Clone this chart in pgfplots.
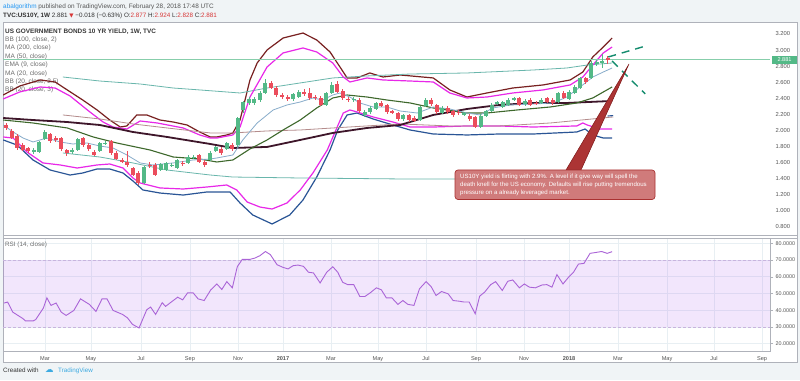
\documentclass[border=0pt]{standalone}
\usepackage{pgfplots}
\pgfplotsset{compat=1.18}
\usepackage{pgfplotstable}
\usepgfplotslibrary{fillbetween}
\usepackage{fontspec}
\setmainfont{Liberation Sans}
\newfontfamily\dejavu{DejaVu Sans}
\newcommand\fs[1]{\fontsize{#1}{#1}\selectfont}
\definecolor{bgc}{RGB}{240,244,246}
\definecolor{axc}{RGB}{175,178,186}
\definecolor{gridc}{RGB}{232,239,243}
\definecolor{labc}{RGB}{85,85,85}
\definecolor{legc}{RGB}{110,110,110}
\definecolor{hdc}{RGB}{50,50,50}
\definecolor{upc}{RGB}{83,185,135}
\definecolor{dnc}{RGB}{235,77,92}
\definecolor{bbthree}{RGB}{120,32,32}
\definecolor{bbmag}{RGB}{232,40,232}
\definecolor{bbblue}{RGB}{42,85,150}
\definecolor{madark}{RGB}{62,22,42}
\definecolor{magreen}{RGB}{62,104,44}
\definecolor{emac}{RGB}{135,172,202}
\definecolor{bbteal}{RGB}{105,182,172}
\definecolor{mabrown}{RGB}{180,140,140}
\definecolor{tealfill}{RGB}{38,166,154}
\definecolor{rsic}{RGB}{170,100,215}
\definecolor{rsiband}{RGB}{150,50,235}
\definecolor{rsidash}{RGB}{200,180,222}
\definecolor{tvblue}{RGB}{33,150,243}
\definecolor{hdred}{RGB}{215,55,55}
\definecolor{callfill}{RGB}{204,112,112}
\definecolor{calledge}{RGB}{170,50,50}
\definecolor{wedgefill}{RGB}{172,52,52}
\definecolor{wedgeedge}{RGB}{125,25,25}
\definecolor{drawteal}{RGB}{20,140,110}
\definecolor{logoblue}{RGB}{60,170,225}

\pgfplotstableread{
i o h l c
5 1.732 1.78 1.71 1.757
6 1.732 1.87 1.72 1.857
7 1.894 2.00 1.88 1.981
12 1.732 1.78 1.71 1.757
13 1.757 1.91 1.74 1.894
17 1.745 1.86 1.73 1.844
18 1.832 1.87 1.82 1.844
25 1.347 1.56 1.34 1.546
28 1.508 1.60 1.49 1.583
29 1.508 1.61 1.50 1.596
30 1.558 1.59 1.54 1.571
31 1.533 1.65 1.52 1.633
33 1.596 1.69 1.58 1.670
34 1.658 1.70 1.64 1.670
37 1.633 1.74 1.62 1.720
38 1.745 1.81 1.73 1.795
40 1.770 1.86 1.76 1.844
42 1.819 2.17 1.80 2.155
43 2.255 2.37 2.22 2.354
44 2.342 2.41 2.32 2.392
45 2.342 2.42 2.32 2.392
46 2.379 2.49 2.36 2.466
47 2.466 2.64 2.45 2.591
52 2.392 2.47 2.37 2.454
53 2.416 2.50 2.40 2.479
58 2.317 2.48 2.30 2.466
59 2.466 2.60 2.45 2.566
63 2.379 2.41 2.36 2.392
65 2.193 2.25 2.17 2.230
66 2.230 2.30 2.21 2.280
67 2.267 2.36 2.25 2.342
72 2.143 2.21 2.12 2.193
75 2.130 2.31 2.12 2.292
76 2.305 2.40 2.29 2.379
79 2.217 2.30 2.20 2.280
83 2.205 2.23 2.18 2.211
86 2.043 2.20 2.03 2.180
87 2.180 2.26 2.17 2.242
88 2.242 2.34 2.23 2.317
89 2.342 2.37 2.32 2.348
90 2.292 2.37 2.28 2.354
91 2.317 2.40 2.30 2.379
92 2.392 2.42 2.37 2.398
94 2.329 2.39 2.31 2.367
97 2.342 2.40 2.33 2.379
100 2.354 2.48 2.34 2.466
102 2.392 2.50 2.38 2.479
103 2.466 2.56 2.45 2.541
104 2.528 2.67 2.51 2.653
106 2.653 2.86 2.64 2.839
107 2.827 2.88 2.80 2.852
108 2.839 2.95 2.78 2.864
}\uptab

\pgfplotstableread{
i o h l c
0 2.068 2.09 2.00 2.031
1 1.994 2.02 1.89 1.906
2 1.931 1.95 1.76 1.782
3 1.819 1.84 1.74 1.757
4 1.782 1.80 1.72 1.745
8 1.956 1.97 1.85 1.869
9 1.906 1.93 1.86 1.882
10 1.906 1.92 1.75 1.770
11 1.757 1.77 1.68 1.720
14 1.906 1.92 1.80 1.819
15 1.819 1.85 1.75 1.770
16 1.732 1.76 1.68 1.695
19 1.869 1.88 1.70 1.720
20 1.720 1.74 1.63 1.645
21 1.633 1.66 1.59 1.608
22 1.608 1.74 1.55 1.571
23 1.533 1.55 1.43 1.446
24 1.471 1.49 1.32 1.347
26 1.571 1.61 1.53 1.558
27 1.571 1.59 1.43 1.446
32 1.596 1.62 1.56 1.583
35 1.695 1.71 1.59 1.608
36 1.608 1.63 1.55 1.571
39 1.770 1.79 1.70 1.720
41 1.819 1.84 1.75 1.770
48 2.591 2.62 2.51 2.528
49 2.528 2.55 2.42 2.441
50 2.441 2.47 2.39 2.416
51 2.416 2.44 2.37 2.392
54 2.479 2.51 2.43 2.454
55 2.466 2.53 2.38 2.404
56 2.416 2.44 2.38 2.404
57 2.404 2.43 2.30 2.317
60 2.578 2.61 2.46 2.479
61 2.491 2.51 2.38 2.404
62 2.392 2.41 2.36 2.379
64 2.379 2.40 2.22 2.242
68 2.342 2.37 2.29 2.305
69 2.317 2.33 2.21 2.230
70 2.242 2.26 2.20 2.217
71 2.217 2.23 2.12 2.143
73 2.193 2.21 2.11 2.130
74 2.155 2.18 2.10 2.118
77 2.379 2.40 2.31 2.329
78 2.317 2.33 2.21 2.230
80 2.280 2.30 2.21 2.230
81 2.242 2.26 2.17 2.193
82 2.230 2.25 2.19 2.217
84 2.180 2.20 2.12 2.143
85 2.168 2.18 2.03 2.043
93 2.404 2.42 2.30 2.317
95 2.379 2.40 2.30 2.317
96 2.345 2.37 2.32 2.338
98 2.404 2.42 2.34 2.354
99 2.379 2.40 2.32 2.342
101 2.466 2.49 2.39 2.404
105 2.653 2.67 2.58 2.603
109 2.900 2.924 2.828 2.881
}\dntab

\pgfplotstableread{
x v
-0.35 44.3
0.3 44.9
1.22 38.9
3.07 35
3.53 33.6
4.92 33.6
5.38 34.4
6.77 41.3
7.41 47.4
8.15 42.9
9.08 44.3
10.0 38.9
10.9 36.9
12.3 39.9
13.5 46.8
15.1 43.5
16.3 39.3
17.4 46.8
18.3 46.8
19.4 39.9
21.1 37.5
22.0 35.5
22.9 31.6
24.1 29.4
25.5 40.3
26.2 41.9
27.1 37.5
28.3 44.5
28.9 42.3
31.1 47.8
32.0 46.2
32.9 50.4
33.9 50.4
34.8 46.8
35.9 45.8
37.1 52.2
38.2 55.7
39.1 52.4
40.0 57.1
41.0 53.4
41.9 66
42.8 70.4
44.2 70.4
45.1 71.2
46.0 72.6
47.0 75.1
47.9 73.2
49.1 67.2
50.2 65.6
51.1 64.7
52.0 66.6
52.9 67
53.9 66.2
54.8 62.7
55.7 62.3
56.9 56.3
58.1 62.7
59.2 66
60.1 62.7
61.0 56.7
61.9 55.3
63.0 55.3
64.1 48.2
65.0 48.2
65.9 50.2
67.1 53.4
68.0 52.2
68.9 47.4
69.9 47.4
71.0 43.5
71.9 45.8
72.8 43.5
73.9 42.9
74.9 52.8
76.1 57.1
77.0 54.2
77.9 48.8
78.9 51.2
80.1 49.8
81.0 45.8
82.1 45.4
83.0 44.9
83.9 44.9
85.0 37.9
85.8 48.4
86.7 50.8
87.8 55.3
88.7 57.1
89.9 51.8
90.9 57.3
91.8 58.1
93.0 53.4
93.9 55.7
94.8 53.8
95.9 53.4
97.1 55.1
98.0 55.3
98.9 53.8
99.8 61.3
100.9 55.7
101.9 59.7
102.8 62.7
103.7 67.6
104.7 68
105.8 74
107.0 74.6
107.9 75.1
108.9 74
109.8 75
}\rsitab

\begin{document}
\begin{tikzpicture}
\fill[bgc] (0pt,0pt) rectangle (800pt,380pt);
\fill[white] (3pt,18pt) rectangle (797pt,358pt);
\draw[axc, line width=0.6pt] (3pt,18pt) rectangle (797pt,358pt);

% header
\node[anchor=base west, inner sep=0] at (3pt,371.7pt) {\fs{6.4}\textcolor{tvblue}{abalgorithm} \textcolor{labc}{published on TradingView.com, February 28, 2018 17:48 UTC}};
\node[anchor=base west, inner sep=0, text=hdc] at (3pt,362.7pt) {\fs{6.3}\textbf{TVC:US10Y, 1W} 2.881 \textcolor{hdred}{\dejavu\fs{5.5}▼} −0.018 (−0.63\%) O:\textcolor{hdred}{2.877} H:\textcolor{hdred}{2.924} L:\textcolor{hdred}{2.828} C:\textcolor{hdred}{2.881}};

% legend
\node[anchor=base west, inner sep=0] at (5pt,346.5pt) {\fs{6.4}\bfseries\textcolor[RGB]{55,55,55}{US GOVERNMENT BONDS 10 YR YIELD, 1W, TVC}};
\node[anchor=base west, inner sep=0, text=legc] at (5pt,338.5pt) {\fs{6.5}BB (100, close, 2)};
\node[anchor=base west, inner sep=0, text=legc] at (5pt,330pt) {\fs{6.5}MA (200, close)};
\node[anchor=base west, inner sep=0, text=legc] at (5pt,321.5pt) {\fs{6.5}MA (50, close)};
\node[anchor=base west, inner sep=0, text=legc] at (5pt,313pt) {\fs{6.5}EMA (9, close)};
\node[anchor=base west, inner sep=0, text=legc] at (5pt,304.5pt) {\fs{6.5}MA (20, close)};
\node[anchor=base west, inner sep=0, text=legc] at (5pt,296pt) {\fs{6.5}BB (20, close, 2.5)};
\node[anchor=base west, inner sep=0, text=legc] at (5pt,288pt) {\fs{6.5}BB (20, close, 3)};

\begin{axis}[
  at={(3pt,145pt)}, anchor=south west, scale only axis,
  width=767pt, height=213pt,
  xmin=-0.54, xmax=138.4, ymin=0.700, ymax=3.349,
  axis line style={draw=axc, line width=0.6pt},
  xtick={7.07,15.40,24.46,33.33,42.03,50.18,58.88,67.39,76.09,85.14,93.84,101.99,110.87,119.75,128.26,136.96},
  xticklabels={}, x tick style={draw=none},
  ytick={0.8,1.0,1.2,1.4,1.6,1.8,2.0,2.2,2.4,2.6,2.8,3.0,3.2},
  yticklabels={0.800,1.000,1.200,1.400,1.600,1.800,2.000,2.200,2.400,2.600,2.800,3.000,3.200},
  ytick pos=right, yticklabel pos=right, tick align=outside,
  major tick length=3pt, y tick style={draw=axc, line width=0.5pt},
  yticklabel style={font=\fs{5.8}, text=labc, xshift=-1pt},
  xmajorgrids, ymajorgrids, grid style={draw=gridc, line width=0.6pt},
  clip=true,
]
\addplot[bbthree, line width=1.2pt, name path=u3] coordinates {
(-0.5,2.441) (2.5,2.553) (6.2,2.628) (8.9,2.603) (11.1,2.504) (13.9,2.379) (16.5,2.255) (18.8,2.130) (20.7,2.043) (21.9,2.056) (23.7,2.193) (25.5,2.193) (27.9,2.130) (30.3,2.105) (32.8,2.068) (35.1,1.981) (37.0,1.919) (38.2,1.919) (40.0,1.944) (41.1,1.969) (42.4,2.130) (44.2,2.628) (45.5,2.839) (47.3,3.001) (50.2,3.150) (53.8,3.212) (56.3,3.125) (58.7,2.976) (60.5,2.790) (61.8,2.653) (63.6,2.653) (65.9,2.715) (68.3,2.665) (71.4,2.690) (77.4,2.653) (80.4,2.504) (83.5,2.416) (87.1,2.466) (91.8,2.528) (97.3,2.566) (102.2,2.628) (104.5,2.727) (106.3,2.914) (108.2,3.038) (109.8,3.150)};
\addplot[bbblue, line width=1.2pt, name path=l3] coordinates {
(-0.5,1.882) (2.0,1.819) (4.9,1.633) (8.0,1.508) (11.6,1.446) (13.9,1.471) (16.5,1.521) (18.8,1.521) (21.2,1.471) (23.0,1.372) (24.8,1.260) (27.9,1.222) (32.1,1.197) (36.4,1.235) (40.6,1.235) (42.4,1.098) (44.7,0.949) (48.2,0.837) (51.4,0.949) (53.8,1.135) (56.3,1.421) (58.7,1.757) (60.1,2.006) (61.8,2.193) (63.6,2.217) (66.5,2.143) (70.1,2.068) (73.2,2.006) (77.4,1.956) (83.5,1.944) (89.3,1.956) (95.5,1.956) (103.4,1.981) (104.9,2.018) (106.3,1.944) (108.2,1.906) (109.8,1.906)};
\addplot[bbteal, line width=0.8pt, name path=u100] coordinates {
(10.3,2.665) (17.0,2.615) (24.3,2.578) (30.3,2.528) (35.1,2.504) (42.4,2.466) (47.3,2.528) (53.3,2.591) (59.2,2.653) (65.4,2.678) (73.2,2.702) (83.5,2.715) (95.5,2.752) (101.6,2.777) (105.3,2.814) (109.8,2.839)};
\addplot[bbteal, line width=0.8pt, name path=l100] coordinates {
(10.3,1.720) (17.0,1.670) (23.0,1.596) (29.2,1.508) (37.0,1.446) (41.1,1.421) (53.3,1.409) (71.4,1.397) (89.3,1.397) (109.8,1.409)};
\addplot[black, fill opacity=0.045, draw=none] fill between[of=u100 and l100];
\addplot[black, fill opacity=0.045, draw=none] fill between[of=u3 and l3];
\addplot[bbmag, line width=1.2pt, name path=u25] coordinates {
(-0.5,2.392) (2.5,2.479) (6.2,2.541) (8.9,2.528) (11.6,2.429) (15.2,2.230) (17.6,2.105) (19.4,2.043) (21.9,2.018) (24.3,2.118) (27.4,2.093) (32.1,2.031) (35.1,1.944) (37.0,1.906) (38.2,1.906) (41.1,1.944) (42.4,2.043) (44.2,2.416) (47.3,2.790) (50.2,2.964) (53.8,3.026) (56.3,2.976) (59.2,2.839) (61.1,2.665) (62.3,2.603) (65.4,2.653) (68.3,2.628) (73.2,2.615) (77.4,2.603) (80.4,2.466) (83.5,2.404) (87.1,2.416) (91.8,2.466) (97.3,2.504) (102.2,2.566) (104.5,2.665) (106.3,2.814) (108.2,2.964) (109.8,3.038)};
\addplot[bbmag, line width=1.2pt, name path=l25] coordinates {
(-0.5,1.919) (1.3,1.906) (3.8,1.732) (6.7,1.596) (9.8,1.571) (12.9,1.533) (16.5,1.571) (18.8,1.583) (21.2,1.533) (23.0,1.409) (24.3,1.347) (27.9,1.285) (32.1,1.272) (36.4,1.297) (40.0,1.322) (41.8,1.260) (43.7,1.110) (46.0,1.048) (48.2,1.023) (50.9,1.098) (53.3,1.260) (55.6,1.471) (58.2,1.757) (60.0,2.043) (61.1,2.217) (62.3,2.255) (63.6,2.230) (66.5,2.168) (70.1,2.105) (73.2,2.043) (77.4,2.043) (83.5,2.056) (89.3,2.056) (95.5,2.043) (103.4,2.056) (104.5,2.093) (105.3,2.068) (107.6,2.018) (109.8,2.018)};
\addplot[tealfill, fill opacity=0.16, draw=none] fill between[of=u25 and l25];
\addplot[mabrown, line width=0.8pt] coordinates {
(10.3,2.193) (17.0,2.143) (23.0,2.081) (29.2,2.031) (37.0,1.969) (41.1,1.969) (47.3,1.994) (53.3,2.006) (59.2,2.031) (71.4,2.081) (80.4,2.056) (89.3,2.056) (98.6,2.093) (110.0,2.168)};
\addplot[madark, line width=1.8pt] coordinates {
(-0.5,2.155) (4.9,2.130) (11.1,2.105) (17.0,2.068) (23.0,1.981) (29.2,1.919) (37.0,1.832) (41.1,1.782) (47.3,1.795) (53.3,1.882) (59.2,1.969) (65.4,2.031) (71.4,2.068) (77.4,2.193) (83.5,2.267) (89.3,2.317) (95.5,2.342) (101.6,2.342) (109.8,2.367)};
\addplot[magreen, line width=1.1pt] coordinates {
(-0.5,2.130) (4.9,2.093) (11.1,2.031) (15.8,1.919) (20.1,1.844) (26.1,1.757) (30.3,1.670) (35.1,1.645) (38.2,1.608) (41.1,1.633) (44.2,1.770) (47.3,1.882) (50.2,2.006) (53.3,2.130) (56.3,2.280) (59.2,2.404) (61.8,2.441) (65.4,2.416) (69.0,2.379) (73.2,2.342) (77.4,2.280) (83.5,2.217) (87.1,2.217) (92.6,2.255) (98.6,2.292) (103.4,2.342) (106.3,2.404) (109.8,2.541)};
\addplot[emac, line width=0.8pt] coordinates {
(-0.5,2.068) (1.3,1.981) (3.1,1.906) (4.9,1.857) (7.4,1.906) (9.8,1.857) (12.1,1.832) (14.7,1.844) (17.0,1.807) (19.4,1.782) (21.9,1.695) (24.3,1.596) (26.6,1.571) (30.3,1.596) (33.9,1.633) (37.0,1.645) (38.2,1.658) (41.1,1.695) (42.9,1.882) (45.5,2.093) (48.4,2.255) (50.9,2.317) (53.3,2.354) (55.6,2.404) (57.4,2.379) (59.2,2.441) (60.5,2.466) (62.3,2.416) (64.1,2.342) (66.5,2.292) (69.0,2.292) (71.4,2.242) (74.5,2.217) (77.4,2.292) (80.4,2.267) (83.5,2.217) (85.9,2.193) (88.2,2.280) (91.3,2.317) (95.5,2.329) (99.1,2.342) (101.6,2.416) (104.0,2.541) (106.3,2.665) (108.2,2.727) (109.8,2.777)};
\addplot[bbblue, line width=1.1pt] coordinates {(109.0,2.180) (110.0,2.185)};
\addplot[upc!70, line width=0.6pt] coordinates {(-0.54,2.881) (138.4,2.881)};
\addplot[draw=none, mark=none, forget plot, error bars/.cd, y dir=both, y explicit, error mark=none, error bar style={line width=0.7pt, draw=upc}]
  table[x=i, y expr={(\thisrow{h}+\thisrow{l})/2}, y error expr={(\thisrow{h}-\thisrow{l})/2}] {\uptab};
\addplot[draw=none, mark=none, forget plot, error bars/.cd, y dir=both, y explicit, error mark=none, error bar style={line width=0.7pt, draw=dnc}]
  table[x=i, y expr={(\thisrow{h}+\thisrow{l})/2}, y error expr={(\thisrow{h}-\thisrow{l})/2}] {\dntab};
\addplot[draw=none, mark=none, forget plot, error bars/.cd, y dir=both, y explicit, error mark=none, error bar style={line width=4pt, draw=upc}]
  table[x=i, y expr={(\thisrow{o}+\thisrow{c})/2}, y error expr={max(abs(\thisrow{c}-\thisrow{o})/2,0.006)}] {\uptab};
\addplot[draw=none, mark=none, forget plot, error bars/.cd, y dir=both, y explicit, error mark=none, error bar style={line width=4pt, draw=dnc}]
  table[x=i, y expr={(\thisrow{o}+\thisrow{c})/2}, y error expr={max(abs(\thisrow{c}-\thisrow{o})/2,0.006)}] {\dntab};
\addplot[drawteal, line width=1.4pt, dash pattern=on 8pt off 6pt] coordinates {(109.1,2.914) (116.1,3.055)};
\addplot[drawteal, line width=1.4pt, dash pattern=on 8pt off 6pt] coordinates {(109.8,2.864) (115.8,2.454)};
\end{axis}

\begin{axis}[
  at={(3pt,28.5pt)}, anchor=south west, scale only axis,
  width=767pt, height=113pt,
  xmin=-0.54, xmax=138.4, ymin=15.34, ymax=82.87,
  axis line style={draw=axc, line width=0.6pt},
  xtick={7.07,15.40,24.46,33.33,42.03,50.18,58.88,67.39,76.09,85.14,93.84,101.99,110.87,119.75,128.26,136.96},
  xticklabels={Mar,May,Jul,Sep,Nov,\textbf{2017},Mar,May,Jul,Sep,Nov,\textbf{2018},Mar,May,Jul,Sep},
  x tick style={draw=none}, xtick pos=bottom,
  xticklabel style={font=\fs{5.6}, text=labc, yshift=1.5pt},
  ytick={20,30,40,50,60,70,80},
  yticklabels={20.0000,30.0000,40.0000,50.0000,60.0000,70.0000,80.0000},
  ytick pos=right, yticklabel pos=right, tick align=outside,
  major tick length=3pt, y tick style={draw=axc, line width=0.5pt},
  yticklabel style={font=\fs{5.4}, text=labc, xshift=-1pt},
  xmajorgrids, ymajorgrids, grid style={draw=gridc, line width=0.6pt},
]
\addplot[draw=none, fill=rsiband, fill opacity=0.12] coordinates {(-0.54,30) (138.4,30) (138.4,70) (-0.54,70)} -- cycle;
\addplot[rsidash, line width=0.6pt, dash pattern=on 3pt off 2pt] coordinates {(-0.54,30) (138.4,30)};
\addplot[rsidash, line width=0.6pt, dash pattern=on 3pt off 2pt] coordinates {(-0.54,70) (138.4,70)};
\addplot[rsic, line width=0.9pt] table[x=x, y=v] {\rsitab};
\end{axis}

\node[anchor=base west, inner sep=0, text=legc] at (5pt,133pt) {\fs{6.3}RSI (14, close)};

\draw[axc, line width=0.6pt] (3pt,141.5pt) -- (797pt,141.5pt);
\draw[axc, line width=0.6pt] (3pt,145pt) -- (797pt,145pt);

\node[fill=upc, text=white, inner sep=0, minimum width=25pt, minimum height=8pt, font=\fs{5.6}] at (784.5pt,320pt) {2.881};

\fill[wedgefill, draw=wedgeedge, line width=0.5pt] (566pt,210pt) -- (581pt,210pt) -- (629pt,316pt) -- cycle;
\fill[callfill, fill opacity=0.92, draw=calledge, line width=0.7pt, rounded corners=3pt] (455pt,210pt) rectangle (655pt,180.5pt);
\node[anchor=base west, inner sep=0, text=white] at (460pt,201.5pt) {\fs{6.1}US10Y yield is flirting with 2.9\%. A level if it give way will spell the};
\node[anchor=base west, inner sep=0, text=white] at (460pt,193.6pt) {\fs{6.1}death knell for the US economy. Defaults will rise putting tremendous};
\node[anchor=base west, inner sep=0, text=white] at (460pt,185.7pt) {\fs{6.1}pressure on a already leveraged market.};

\node[anchor=base west, inner sep=0, text=black!80] at (3pt,7.8pt) {\fs{6.3}Created with};
\node[anchor=base west, inner sep=0, text=logoblue] at (45pt,7.3pt) {\dejavu\fs{8.5}☁};
\node[anchor=base west, inner sep=0, text=logoblue] at (58pt,7.8pt) {\fs{6.3}TradingView};

\pgfresetboundingbox
\path[use as bounding box] (0pt,0pt) rectangle (800pt,380pt);
\end{tikzpicture}
\end{document}
